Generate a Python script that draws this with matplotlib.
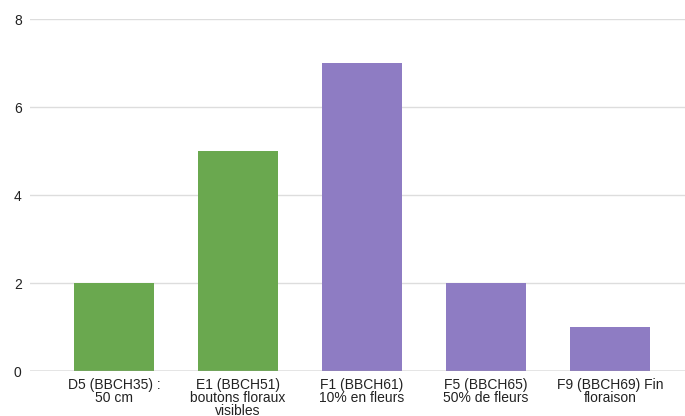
import matplotlib
matplotlib.use("Agg")
import matplotlib.pyplot as plt

categories = ["D5 (BBCH35) :\n50 cm", "E1 (BBCH51)\nboutons floraux\nvisibles",
              "F1 (BBCH61)\n10% en fleurs", "F5 (BBCH65)\n50% de fleurs",
              "F9 (BBCH69) Fin\nfloraison"]
values = [2, 5, 7, 2, 1]
colors = ["#6aa84f", "#6aa84f", "#8e7cc3", "#8e7cc3", "#8e7cc3"]
yticks = [0, 2, 4, 6, 8]

plt.rcParams['font.family'] = ['Liberation Sans', 'DejaVu Sans']
fig = plt.figure(figsize=(6.85, 4.16), dpi=100)
ax = fig.add_axes([0.0438, 0.108, 0.9562, 0.846])
x = list(range(len(categories)))
ax.bar(x, values, width=0.645, color=colors, zorder=3)
ax.set_xlim(-0.677, 4.605)
ax.set_ylim(0, 8)
ax.set_yticks(yticks)
ax.set_yticklabels([str(v) for v in yticks], fontsize=10, color="#222222")
ax.set_xticks(x)
ax.set_xticklabels(categories, fontsize=10, color="#222222", linespacing=0.92, va="top")
ax.tick_params(axis='both', length=0)
ax.tick_params(axis='x', pad=5)
ax.tick_params(axis='y', pad=6)
ax.grid(axis='y', color="#dddddd", linewidth=1, zorder=0)
for s in ax.spines.values():
    s.set_visible(False)
ax.axhline(0, color="#999999", linewidth=1, zorder=4)
fig.savefig("out.png", dpi=100)
